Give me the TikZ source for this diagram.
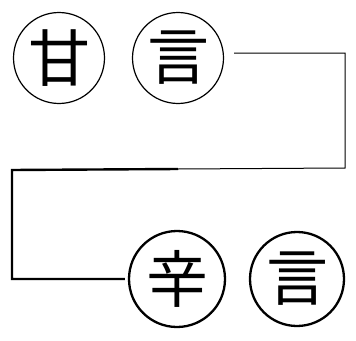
\documentclass[tikz,border=0pt]{standalone}
\usepackage{fontspec}
\newfontfamily\cjk{Noto Sans CJK JP}
\usepackage{tikz}
\usetikzlibrary{positioning, calc}

\begin{document}
\begin{tikzpicture}[x=1pt, y=-1pt,
    kanji/.style={circle, draw, inner sep=0pt, minimum size=91pt,
      font=\cjk\fontsize{62}{62}\selectfont},
    bold/.style={line width=2.4pt},
    faint/.style={line width=1pt}]
  \useasboundingbox (0,0) rectangle (356,340);
  \node[kanji, line width=1.2pt] (amai) at (59,58) {甘};
  \node[kanji, line width=1.2pt] (koto1) at (178,58) {言};
  \node[kanji, line width=2.3pt, minimum size=96pt] (karai) at (177,279) {辛};
  \node[kanji, line width=2.3pt, minimum size=94pt] (koto2) at (297,279) {言};
  \coordinate (turn) at (345,168);
  \coordinate (mid) at (178,169);
  \coordinate (corner) at (12,170);
  \draw[faint] ([xshift=10pt,yshift=5pt]koto1.east) -| (turn) -- (mid);
  \draw[bold] (mid) -- (corner) |- ([xshift=-3pt]karai.west);
\end{tikzpicture}
\end{document}
